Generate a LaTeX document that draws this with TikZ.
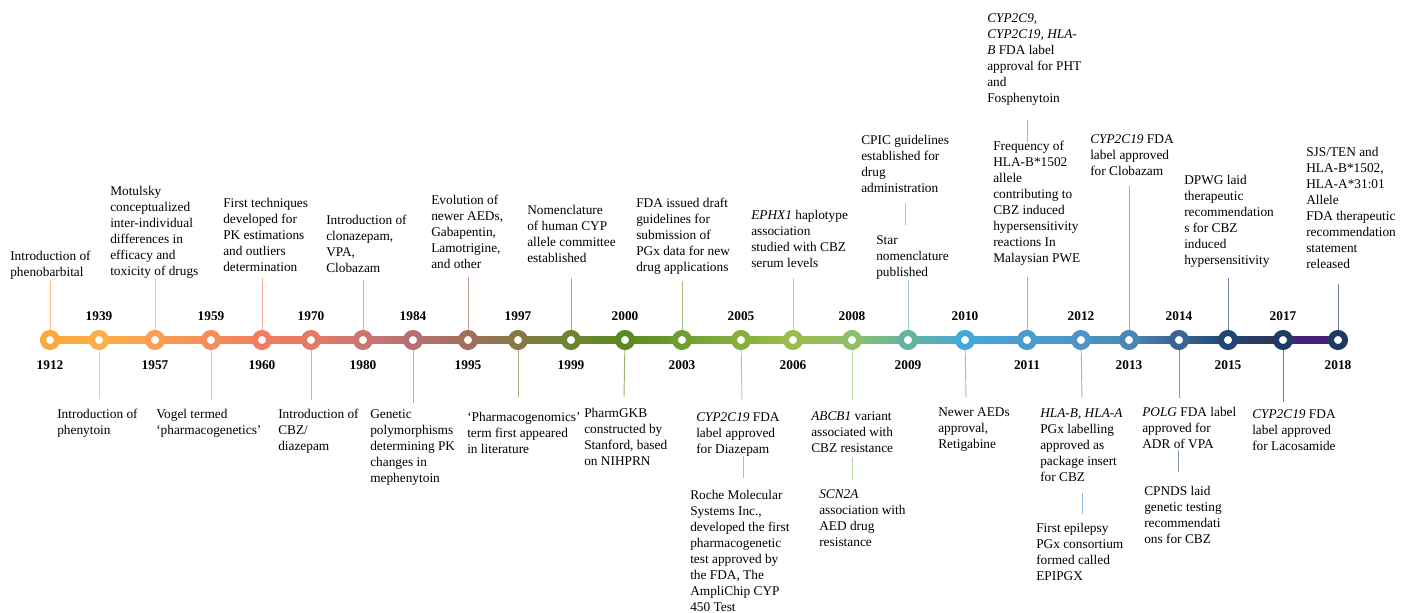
\documentclass[tikz,border=0pt]{standalone}
\usepackage{fontspec}
\setmainfont{Liberation Serif}
\usetikzlibrary{backgrounds}
\definecolor{c1912}{HTML}{F9A83C}
\definecolor{c1939}{HTML}{FCAE48}
\definecolor{c1957}{HTML}{F89F52}
\definecolor{c1959}{HTML}{F38E5A}
\definecolor{c1960}{HTML}{EF7D5E}
\definecolor{c1970}{HTML}{E27B66}
\definecolor{c1980}{HTML}{CA7670}
\definecolor{c1984}{HTML}{B57073}
\definecolor{c1995}{HTML}{A0705A}
\definecolor{c1997}{HTML}{887845}
\definecolor{c1999}{HTML}{6E8432}
\definecolor{c2000}{HTML}{5A8A22}
\definecolor{c2003}{HTML}{6F9F30}
\definecolor{c2005}{HTML}{86AF3D}
\definecolor{c2006}{HTML}{9CBD4B}
\definecolor{c2008}{HTML}{8EBE6C}
\definecolor{c2009}{HTML}{66B2A0}
\definecolor{c2010}{HTML}{45A8DA}
\definecolor{c2011}{HTML}{4A9CCC}
\definecolor{c2012}{HTML}{4E95C5}
\definecolor{c2013}{HTML}{4B86B2}
\definecolor{c2014}{HTML}{3A6492}
\definecolor{c2015}{HTML}{1F4672}
\definecolor{c2017}{HTML}{1E3B68}
\definecolor{c2018}{HTML}{1E3A62}
\definecolor{barpurple}{HTML}{4B1E7A}
\definecolor{bardark}{HTML}{352E50}
\begin{document}
\begin{tikzpicture}[x=0.75pt,y=-0.75pt,
  ring/.style={circle,minimum size=10.5pt,inner sep=0pt,line width=4.5pt,fill=white},
  ev/.style={anchor=north west,inner sep=0pt,align=left,font=\fontsize{10}{12}\selectfont},
  yrlab/.style={inner sep=0pt,font=\fontsize{10}{12}\selectfont\bfseries},
  conn/.style={line width=0.7pt}]
\useasboundingbox (0,0) rectangle (1409,613);
% circles
\foreach \yr/\xx in {1912/50,1939/99,1957/155,1959/211,1960/262,1970/311,1980/363,1984/413,1995/468,1997/518,1999/571,2000/625,2003/682,2005/741,2006/793,2008/852,2009/908,2010/965,2011/1027,2012/1081,2013/1129,2014/1179,2015/1228,2017/1283,2018/1338}
  {\node[ring,draw=c\yr] (c\yr) at (\xx,340) {};}
% year labels
\foreach \yr in {1912,1957,1960,1980,1995,1999,2003,2006,2009,2011,2013,2015,2018}
  {\node[yrlab] (y\yr) at ([yshift=-0.75pt*25]c\yr.center) {\yr};}
\foreach \yr in {1939,1959,1970,1984,1997,2000,2005,2008,2010,2012,2014,2017}
  {\node[yrlab] (y\yr) at ([yshift=0.75pt*24]c\yr.center) {\yr};}
% texts above
\node[ev] (t1912) at (10,249) {\strut Introduction of\\phenobarbital};
\node[ev] (t1957) at (110,184) {\strut Motulsky\\conceptualized\\inter-individual\\differences in\\efficacy and\\toxicity of drugs};
\node[ev] (t1960) at (223,196) {\strut First techniques\\developed for\\PK estimations\\and outliers\\determination};
\node[ev] (t1980) at (326,213) {\strut Introduction of\\clonazepam,\\VPA,\\Clobazam};
\node[ev] (t1995) at (431,193) {\strut Evolution of\\newer AEDs,\\Gabapentin,\\Lamotrigine,\\and other};
\node[ev] (t1999) at (527,203) {\strut Nomenclature\\of human CYP\\allele committee\\established};
\node[ev] (t2003) at (636,196) {\strut FDA issued draft\\guidelines for\\submission of\\PGx data for new\\drug applications};
\node[ev] (t2006) at (751,208) {\strut \textit{EPHX1} haplotype\\association\\studied with CBZ\\serum levels};
\node[ev] (t2009a) at (876,233) {\strut Star\\nomenclature\\published};
\node[ev] (t2009b) at (861,133) {\strut CPIC guidelines\\established for\\drug\\administration};
\node[ev] (t2011a) at (993,139) {\strut Frequency of\\HLA-B*1502\\allele\\contributing to\\CBZ induced\\hypersensitivity\\reactions In\\Malaysian PWE};
\node[ev] (t2011b) at (987,11) {\strut \textit{CYP2C9,}\\\textit{CYP2C19, HLA-}\\\textit{B} FDA label\\approval for PHT\\and\\Fosphenytoin};
\node[ev] (t2013) at (1090,132) {\strut \textit{CYP2C19} FDA\\label approved\\for Clobazam};
\node[ev] (t2015) at (1184,173) {\strut DPWG laid\\therapeutic\\recommendation\\s for CBZ\\induced\\hypersensitivity};
\node[ev] (t2018) at (1306,145) {\strut SJS/TEN and\\HLA-B*1502,\\HLA-A*31:01\\Allele\\FDA therapeutic\\recommendation\\statement\\released};
% texts below
\node[ev] (b1939) at (57,407) {\strut Introduction of\\phenytoin};
\node[ev] (b1959) at (156,407) {\strut Vogel termed\\‘pharmacogenetics’};
\node[ev] (b1970) at (278,407) {\strut Introduction of\\CBZ/\\diazepam};
\node[ev] (b1984) at (370,407) {\strut Genetic\\polymorphisms\\determining PK\\changes in\\mephenytoin};
\node[ev] (b1997) at (467,410) {\strut ‘Pharmacogenomics’\\term first appeared\\in literature};
\node[ev] (b2000) at (584,406) {\strut PharmGKB\\constructed by\\Stanford, based\\on NIHPRN};
\node[ev] (b2005a) at (696,410) {\strut \textit{CYP2C19} FDA\\label approved\\for Diazepam};
\node[ev] (b2005b) at (690,488) {\strut Roche Molecular\\Systems Inc.,\\developed the first\\pharmacogenetic\\test approved by\\the FDA, The\\AmpliChip CYP\\450 Test};
\node[ev] (b2008a) at (811,409) {\strut \textit{ABCB1} variant\\associated with\\CBZ resistance};
\node[ev] (b2008b) at (819,487) {\strut \textit{SCN2A}\\association with\\AED drug\\resistance};
\node[ev] (b2010) at (938,405) {\strut Newer AEDs\\approval,\\Retigabine};
\node[ev] (b2012a) at (1040,406) {\strut \textit{HLA-B, HLA-A}\\PGx labelling\\approved as\\package insert\\for CBZ};
\node[ev] (b2012b) at (1036,521) {\strut First epilepsy\\PGx consortium\\formed called\\EPIPGX};
\node[ev] (b2014a) at (1142,405) {\strut \textit{POLG} FDA label\\approved for\\ADR of VPA};
\node[ev] (b2014b) at (1144,484) {\strut CPNDS laid\\genetic testing\\recommendati\\ons for CBZ};
\node[ev] (b2017) at (1252,407) {\strut \textit{CYP2C19} FDA\\label approved\\for Lacosamide};
% connector end points
\foreach \yr/\xx/\yy in {1912/50/280,1957/155/279,1960/262/278,1980/363/280,1995/468/277,1999/571/278,2003/682/281,2006/793/278,2009/908/280,2011/1027/277,2013/1129/186,2015/1228/278,2018/1338/284,
  1939/99/399,1959/211/400,1970/311/400,1984/413/403,1997/518/397,2000/624/397,2005/742/400,2008/852/400,2010/966/398,2012/1082/398,2014/1179/398,2017/1283/402}
  {\coordinate (e\yr) at (\xx,\yy);}
\coordinate (s2009a) at (905,203); \coordinate (s2009b) at (905,225);
\coordinate (s2011a) at (1027,120); \coordinate (s2011b) at (1027,142);
\coordinate (s2005a) at (743,456); \coordinate (s2005b) at (743,478);
\coordinate (s2008a) at (852,457); \coordinate (s2008b) at (852,480);
\coordinate (s2012a) at (1082,493); \coordinate (s2012b) at (1082,514);
\coordinate (s2014a) at (1178,450); \coordinate (s2014b) at (1178,472);
\begin{scope}[on background layer]
\foreach \yr in {1912,1957,1960,1980,1995,1999,2003,2006,2009,2011,2013,2015,2018,1939,1959,1970,1984,1997,2000,2005,2008,2010,2012,2014,2017}
  {\draw[conn,draw=c\yr!65!white] (e\yr) -- (c\yr.center);}
\draw[conn,draw=c2009!65!white] (s2009a) -- (s2009b);
\draw[conn,draw=c2011!65!white] (s2011a) -- (s2011b);
\draw[conn,draw=c2005!65!white] (s2005a) -- (s2005b);
\draw[conn,draw=c2008!65!white] (s2008a) -- (s2008b);
\draw[conn,draw=c2012!65!white] (s2012a) -- (s2012b);
\draw[conn,draw=c2014!65!white] (s2014a) -- (s2014b);
% bar
\foreach \a/\b in {1912/1939,1939/1957,1957/1959,1959/1960,1960/1970,1970/1980,1980/1984,1984/1995,1995/1997,1997/1999,1999/2000,2000/2003,2003/2005,2005/2006,2006/2008,2008/2009,2009/2010,2010/2011,2011/2012,2012/2013,2013/2014,2014/2015}
  {\shade[left color=c\a,right color=c\b] ([yshift=2.6pt]c\a.center) rectangle ([yshift=-2.6pt]c\b.center);}
\shade[left color=c2015,right color=bardark] ([yshift=2.6pt]c2015.center) rectangle ([yshift=-2.6pt]c2017.center);
\shade[left color=barpurple!80!c2017,right color=barpurple] ([yshift=2.6pt]c2017.center) rectangle ([yshift=-2.6pt]c2018.center);
\end{scope}
\end{tikzpicture}
\end{document}
